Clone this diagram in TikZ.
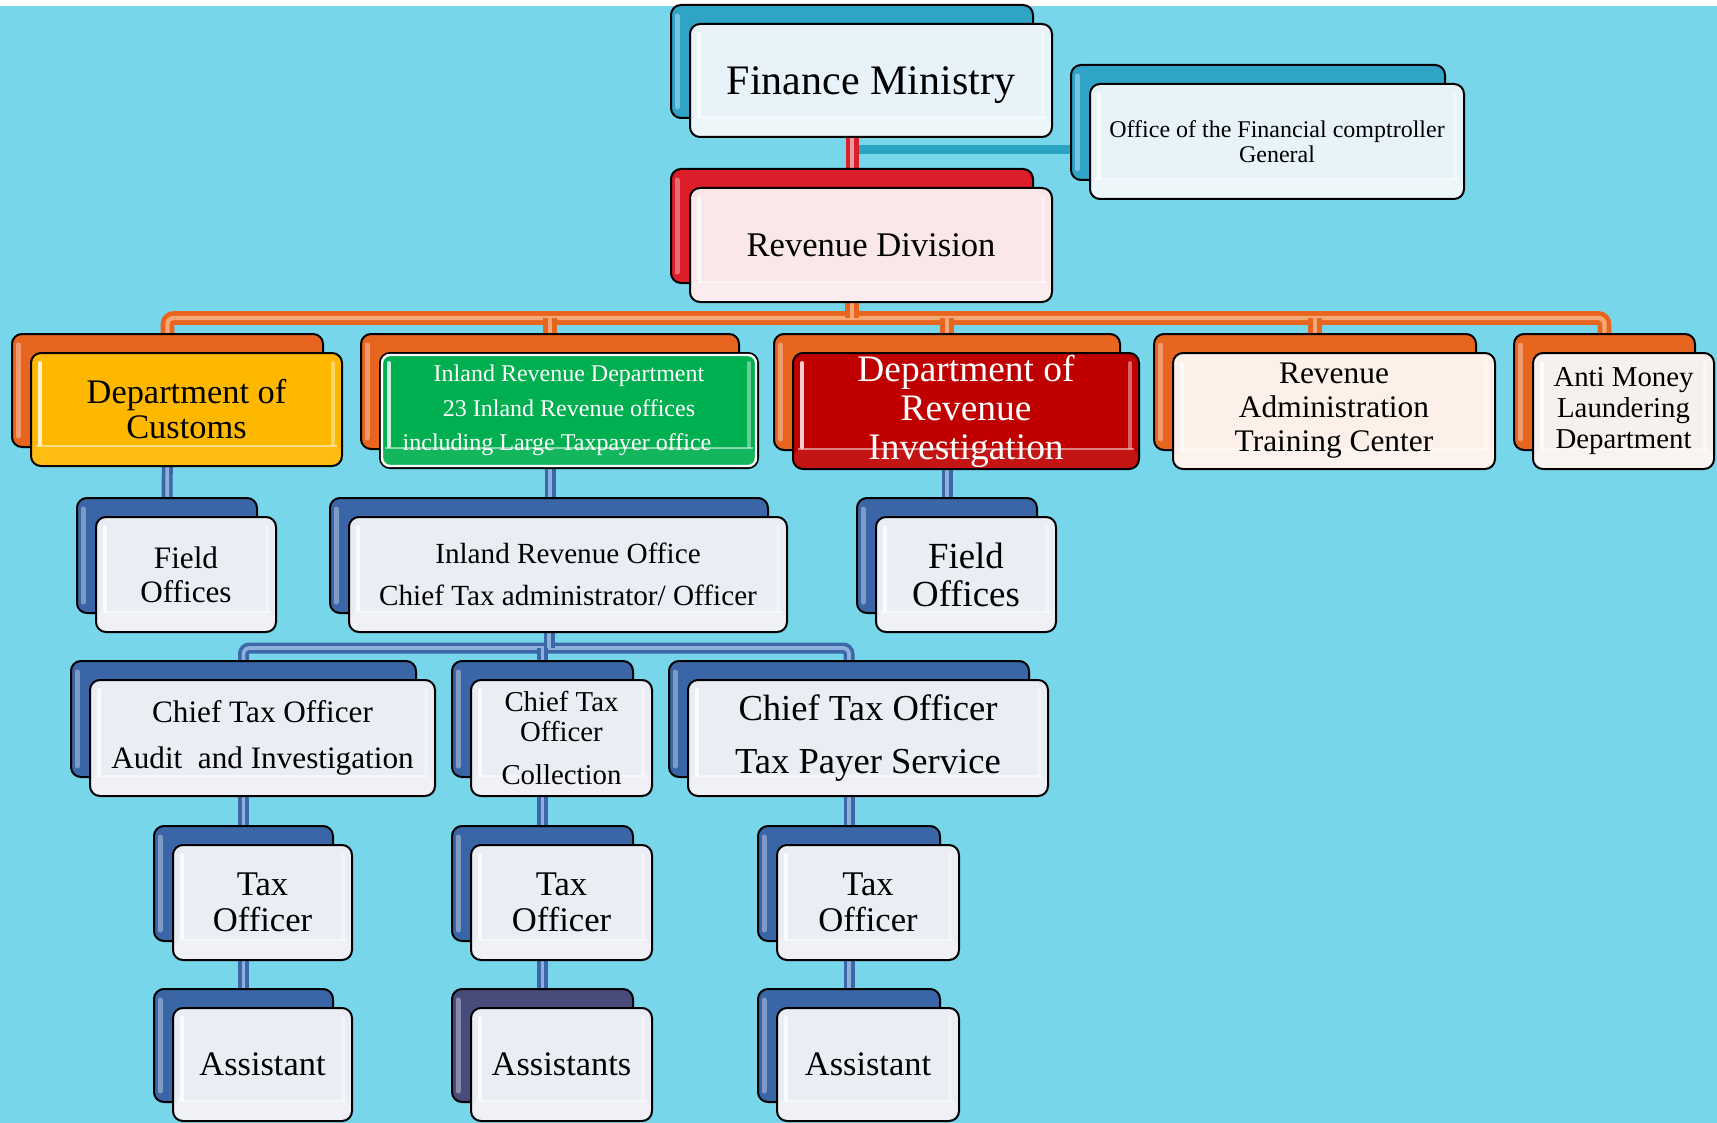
\documentclass[tikz,border=0pt]{standalone}
\usepackage{fontspec}
\setmainfont{Liberation Serif}
\usetikzlibrary{calc}
\pgfdeclarelayer{bg}
\pgfdeclarelayer{lines}
\pgfdeclarelayer{tabs}
\pgfsetlayers{bg,lines,tabs,main}
\definecolor{bgcol}{HTML}{77D6EA}
\definecolor{tabteal}{HTML}{2FA4C6}
\definecolor{tabred}{HTML}{DC1E2B}
\definecolor{taborange}{HTML}{E8651F}
\definecolor{tabblue}{HTML}{3A66A8}
\definecolor{tabnavy}{HTML}{474C7B}
\definecolor{fillice}{HTML}{E7F3F8}
\definecolor{fillpink}{HTML}{FAE8E9}
\definecolor{fillgold}{HTML}{FFB800}
\definecolor{fillgreen}{HTML}{00B050}
\definecolor{fillred}{HTML}{C00000}
\definecolor{fillpeach}{HTML}{FCF0E9}
\definecolor{fillpale}{HTML}{F6F1EE}
\definecolor{fillgrey}{HTML}{EAEDF3}
\definecolor{conred}{HTML}{DA1F2A}
\definecolor{conredin}{HTML}{E99AA0}
\definecolor{conorange}{HTML}{E8651F}
\definecolor{conorangein}{HTML}{F5A874}
\definecolor{conblue}{HTML}{3C68A8}
\definecolor{conbluein}{HTML}{8DB0DC}
\definecolor{conteal}{HTML}{2BA3C2}
\def\bandop{.25}
\tikzset{
  faintband/.code={\def\bandop{.08}},
  frontbox/.style={draw=black, line width=1pt, rounded corners=5pt, inner sep=0pt, align=center, text=black,
    path picture={
      \fill[white, opacity=\bandop] ([yshift=10pt]path picture bounding box.south west) rectangle (path picture bounding box.south east);
      \draw[white, opacity=.5, line width=.8pt] ([xshift=2.5pt, yshift=10pt]path picture bounding box.south west) -- ([xshift=-2.5pt, yshift=10pt]path picture bounding box.south east);
      \draw[white, opacity=.8, line width=2pt, line cap=round] ([xshift=4.5pt, yshift=-5pt]path picture bounding box.north west) -- ([xshift=4.5pt, yshift=11pt]path picture bounding box.south west);
      \draw[white, opacity=.4, line width=2pt, line cap=round] ([xshift=-4.5pt, yshift=-5pt]path picture bounding box.north east) -- ([xshift=-4.5pt, yshift=11pt]path picture bounding box.south east);
    }},
  tabbox/.style={draw=black, line width=1pt, rounded corners=5pt, inner sep=0pt},
  tabshine/.style={draw=white, opacity=.35, line width=2.5pt, line cap=round},
  whiterim/.style={draw=white, line width=1.2pt, rounded corners=4pt},
  redcon/.style={draw=conred, line width=2.2pt, double=conredin, double distance=2.1pt},
  orangecon/.style={draw=conorange, line width=2.3pt, double=conorangein, double distance=2.2pt, rounded corners=3pt},
  bluecon/.style={draw=conblue, line width=1.8pt, double=conbluein, double distance=1.9pt, rounded corners=3pt},
  tealcon/.style={draw=conteal, line width=4.5pt},
}
% #1 name, #2 x1, #3 y1, #4 x2, #5 y2 (front box, px), #6 tab colour, #7 style, #8 text
\newcommand\orgnode[8]{%
  \pgfmathsetmacro\orgw{(#4-#2)*0.5}%
  \pgfmathsetmacro\orgh{(#5-#3)*0.5}%
  \begin{pgfonlayer}{tabs}
    \node[tabbox, fill=#6, minimum width=\orgw pt, minimum height=\orgh pt] (#1T) at ({(#2+#4)/2-19},{(#3+#5)/2-19}) {};
    \draw[tabshine] ([shift={(7,12)}]#1T.north west) -- ([shift={(7,-12)}]#1T.south west);
  \end{pgfonlayer}
  \node[frontbox, #7, minimum width=\orgw pt, minimum height=\orgh pt] (#1) at ({(#2+#4)/2},{(#3+#5)/2}) {#8};
}
\begin{document}
\begin{tikzpicture}[x=0.5pt,y=-0.5pt]
\useasboundingbox (0,0) rectangle (1717,1123);
\begin{pgfonlayer}{bg}
  \fill[bgcol] (0,0) rectangle (1717,1123);
  \fill[white] (0,0) rectangle (1717,6);
\end{pgfonlayer}

% level 0/1
\orgnode{fm}{690}{24}{1052}{137}{tabteal}{fill=fillice, text depth=0pt, font=\fontsize{21}{24}\selectfont}{Finance Ministry}
\orgnode{off}{1090}{84}{1464}{199}{tabteal}{fill=fillice, font=\fontsize{12}{12.5}\selectfont}{Office of the Financial comptroller\\General}
\orgnode{rd}{690}{188}{1052}{302}{tabred}{fill=fillpink, font=\fontsize{17.3}{20}\selectfont}{Revenue Division}

% level 2
\orgnode{cus}{31}{353}{342}{466}{taborange}{fill=fillgold, faintband, font=\fontsize{17.2}{17.5}\selectfont}{Department of\\Customs}
\orgnode{ird}{380}{353}{758}{468}{taborange}{fill=fillgreen, faintband, text=white, font=\fontsize{12}{17.2}\selectfont}{Inland Revenue Department\\23 Inland Revenue offices\\including Large Taxpayer office\hspace*{12pt}}
\draw[whiterim] ([shift={(3,3)}]ird.north west) rectangle ([shift={(-3,-3)}]ird.south east);
\orgnode{dri}{793}{353}{1139}{469}{taborange}{fill=fillred, faintband, text=white, font=\fontsize{18.7}{19.5}\selectfont}{Department of\\Revenue\\Investigation}
\orgnode{ratc}{1173}{353}{1495}{469}{taborange}{fill=fillpeach, font=\fontsize{15.7}{17}\selectfont}{Revenue\\Administration\\Training Center}
\orgnode{aml}{1533}{353}{1714}{469}{taborange}{fill=fillpale, font=\fontsize{14.4}{15.3}\selectfont}{Anti Money\\Laundering\\Department}

% level 3
\orgnode{fo1}{96}{517}{276}{632}{tabblue}{fill=fillgrey, font=\fontsize{15.6}{17}\selectfont}{Field\\Offices}
\orgnode{iro}{349}{517}{787}{632}{tabblue}{fill=fillgrey, font=\fontsize{14.6}{20.8}\selectfont}{Inland Revenue Office\\Chief Tax administrator/ Officer}
\orgnode{fo2}{876}{517}{1056}{632}{tabblue}{fill=fillgrey, font=\fontsize{18.4}{19}\selectfont}{Field\\Offices}

% level 4
\orgnode{cto1}{90}{680}{435}{796}{tabblue}{fill=fillgrey, font=\fontsize{15.6}{23}\selectfont}{Chief Tax Officer\\Audit\ \ and Investigation}
\orgnode{cto2}{471}{680}{652}{796}{tabblue}{fill=fillgrey, font=\fontsize{14.4}{14.8}\selectfont}{Chief Tax\\Officer\\[6.6pt]Collection}
\orgnode{cto3}{688}{680}{1048}{796}{tabblue}{fill=fillgrey, font=\fontsize{18.3}{26.3}\selectfont}{Chief Tax Officer\\Tax Payer Service}

% level 5
\orgnode{to1}{173}{845}{352}{960}{tabblue}{fill=fillgrey, font=\fontsize{17.3}{18}\selectfont}{Tax\\Officer}
\orgnode{to2}{471}{845}{652}{960}{tabblue}{fill=fillgrey, font=\fontsize{17.3}{18}\selectfont}{Tax\\Officer}
\orgnode{to3}{777}{845}{959}{960}{tabblue}{fill=fillgrey, font=\fontsize{17.3}{18}\selectfont}{Tax\\Officer}

% level 6
\orgnode{as1}{173}{1008}{352}{1121}{tabblue}{fill=fillgrey, font=\fontsize{17.2}{20}\selectfont}{Assistant}
\orgnode{as2}{471}{1008}{652}{1121}{tabnavy}{fill=fillgrey, font=\fontsize{17.2}{20}\selectfont}{Assistants}
\orgnode{as3}{777}{1008}{959}{1121}{tabblue}{fill=fillgrey, font=\fontsize{17.2}{20}\selectfont}{Assistant}

% connectors
\begin{pgfonlayer}{lines}
  \path (fmT.south) ++(0,31) coordinate (tj);
  \draw[tealcon] (tj) -- (tj -| offT.center);
  \draw[redcon] (fmT.center) -- (rdT.center);

  \coordinate (ob) at (0,318);
  \draw[orangecon] (cusT.center) -- (cusT.center |- ob) -- (amlT.center |- ob) -- (amlT.center);
  \draw[orangecon] (rdT.center) -- (rdT.center |- ob);
  \draw[orangecon] (irdT.center |- ob) -- (irdT.center);
  \draw[orangecon] (driT.center |- ob) -- (driT.center);
  \draw[orangecon] (ratcT.center |- ob) -- (ratcT.center);

  \draw[bluecon] (cusT.center) -- (fo1T.center);
  \draw[bluecon] (irdT.center) -- (irdT.center |- iroT.center);
  \draw[bluecon] (driT.center) -- (fo2T.center);

  \coordinate (bb) at (0,648);
  \draw[bluecon] (cto1T.center) -- (cto1T.center |- bb) -- (cto3T.center |- bb) -- (cto3T.center);
  \draw[bluecon] (iroT.center) -- (iroT.center |- bb);
  \draw[bluecon] (cto2T.center |- bb) -- (cto2T.center);

  \draw[bluecon] (cto1T.center) -- (to1T.center);
  \draw[bluecon] (cto2T.center) -- (to2T.center);
  \draw[bluecon] (cto3T.center) -- (to3T.center);
  \draw[bluecon] (to1T.center) -- (as1T.center);
  \draw[bluecon] (to2T.center) -- (as2T.center);
  \draw[bluecon] (to3T.center) -- (as3T.center);
\end{pgfonlayer}
\end{tikzpicture}
\end{document}
